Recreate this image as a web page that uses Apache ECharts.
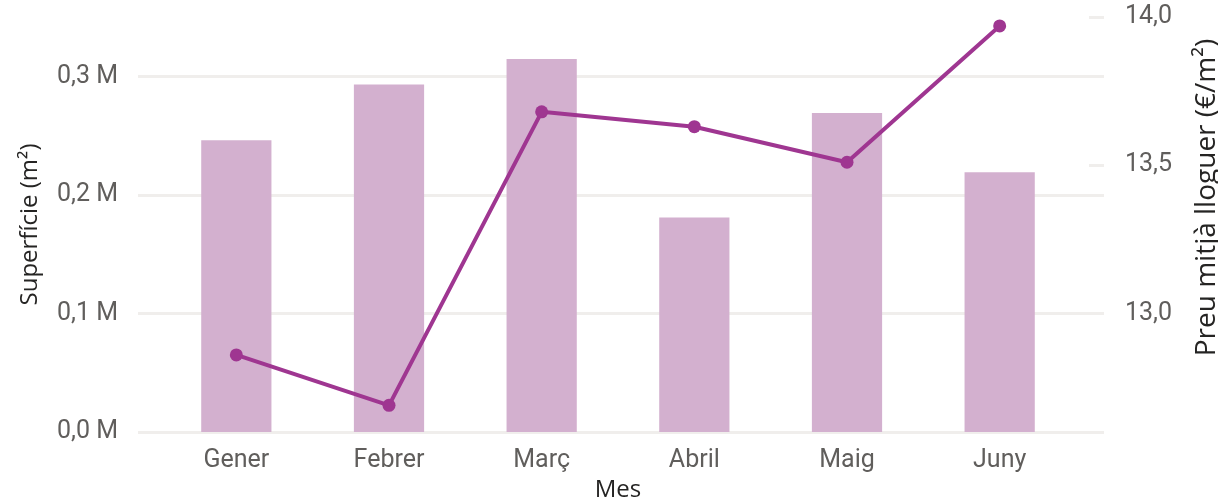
<!DOCTYPE html>
<html>
<head>
<meta charset="utf-8">
<script src="https://cdn.jsdelivr.net/npm/echarts@6/dist/echarts.min.js"></script>
<style>
  html, body { margin: 0; padding: 0; background: #fff; }
  #chart { width: 1218px; height: 502px; }
</style>
</head>
<body>
<div id="chart"></div>
<script>
// months and values
var months = ['Gener', 'Febrer', 'Març', 'Abril', 'Maig', 'Juny'];
var superficie = [246000, 293000, 314500, 181000, 269000, 219000];
var preuMitja = [12.86, 12.69, 13.68, 13.63, 13.51, 13.97];
var leftTicks = [0, 100000, 200000, 300000];
var rightTicks = [13.0, 13.5, 14.0];

var font = 'Roboto';
var titleFont = 'Open Sans';
var labelColor = '#605e5c';
var titleColor = '#252423';
var gridColor = '#f0eeec';

var chart = echarts.init(document.getElementById('chart'));

var fmtM = function (v) { return (v / 1e6).toFixed(1).replace('.', ',') + ' M'; };
var fmtE = function (v) { return v.toFixed(1).replace('.', ','); };

chart.setOption({
  animation: false,
  // grid 0 only carries the wide gridlines and the axis labels,
  // grid 1 carries the categories, bars and line
  grid: [
    { left: 138, right: 114, top: 17, bottom: 70, outerBoundsMode: 'none' },
    { left: 160, right: 142, top: 17, bottom: 70, outerBoundsMode: 'none' }
  ],
  xAxis: [
    { gridIndex: 0, type: 'value', min: 0, max: 1, show: false },
    {
      gridIndex: 1,
      type: 'category',
      data: months,
      axisLine: { show: false },
      axisTick: { show: false },
      axisLabel: { color: labelColor, fontFamily: font, fontSize: 25, margin: 16 },
      name: 'Mes',
      nameLocation: 'middle',
      nameGap: 42,
      nameTextStyle: { color: titleColor, fontFamily: titleFont, fontSize: 24 }
    }
  ],
  yAxis: [
    {
      gridIndex: 0, type: 'value', min: 0, max: 350000,
      axisLine: { show: false },
      axisTick: { show: false, customValues: leftTicks },
      axisLabel: { color: labelColor, fontFamily: font, fontSize: 25, margin: 20, formatter: fmtM, customValues: leftTicks },
      splitLine: { lineStyle: { color: gridColor, width: 3 } },
      name: 'Superfície (m²)',
      nameLocation: 'middle',
      nameGap: 96,
      nameTextStyle: { color: titleColor, fontFamily: titleFont, fontSize: 24 }
    },
    {
      gridIndex: 0, type: 'value', position: 'right', min: 12.6, max: 14.0,
      axisLine: { show: false },
      axisTick: { show: true, inside: true, length: 15, customValues: rightTicks, lineStyle: { color: gridColor, width: 3 } },
      axisLabel: { color: labelColor, fontFamily: font, fontSize: 25, margin: 21, formatter: fmtE, customValues: rightTicks },
      splitLine: { show: false },
      name: 'Preu mitjà lloguer (€/m²)',
      nameLocation: 'middle',
      nameGap: 89,
      nameTextStyle: { color: titleColor, fontFamily: titleFont, fontSize: 28, padding: [0, 0, 0, 54] }
    },
    { gridIndex: 1, type: 'value', min: 0, max: 350000, show: false },
    { gridIndex: 1, type: 'value', min: 12.6, max: 14.0, show: false }
  ],
  series: [
    {
      type: 'bar',
      xAxisIndex: 1, yAxisIndex: 2,
      data: superficie,
      barWidth: '46%',
      itemStyle: { color: '#d3b0cf' }
    },
    {
      type: 'line',
      xAxisIndex: 1, yAxisIndex: 3,
      data: preuMitja,
      symbol: 'circle',
      symbolSize: 13,
      lineStyle: { color: '#9f3691', width: 4 },
      itemStyle: { color: '#9f3691' }
    }
  ]
});
</script>
</body>
</html>
